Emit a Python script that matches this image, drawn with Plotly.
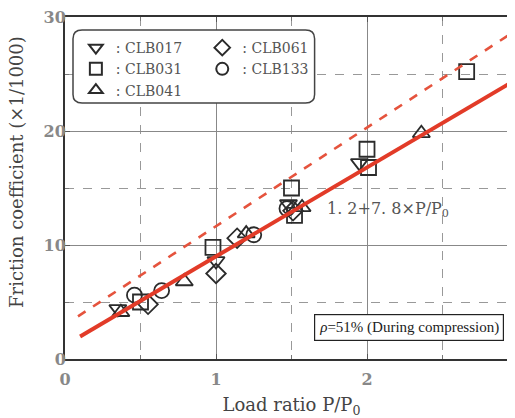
import plotly.graph_objects as go

# ---- data ----
clb017_x = [0.35, 1.00, 1.48, 1.95]
clb017_y = [4.4, 8.6, 13.6, 17.2]
clb031_x = [0.50, 0.98, 1.50, 1.52, 2.00, 2.01, 2.66]
clb031_y = [5.0, 9.8, 15.0, 12.6, 18.4, 16.8, 25.2]
clb041_x = [0.37, 0.79, 1.20, 1.57, 2.36]
clb041_y = [4.1, 6.8, 11.0, 13.3, 19.8]
clb061_x = [0.55, 1.00, 1.14, 1.51]
clb061_y = [4.8, 7.5, 10.6, 13.0]
clb133_x = [0.46, 0.64, 1.25, 1.47]
clb133_y = [5.6, 6.0, 10.9, 13.2]

fit_x = [0.1, 3.0]
fit_intercept, fit_slope = 1.2, 7.8
upper_x = [0.086, 3.0]
upper_intercept, upper_slope = 3.0, 8.65

serif = "DejaVu Serif"
serif2 = "Liberation Serif"
mk_line = dict(color="#2b2b2b", width=1.8)

fig = go.Figure()

series = [
    (": CLB017", clb017_x, clb017_y, "triangle-down-open", "legend"),
    (": CLB031", clb031_x, clb031_y, "square-open", "legend"),
    (": CLB041", clb041_x, clb041_y, "triangle-up-open", "legend"),
    (": CLB061", clb061_x, clb061_y, "diamond-open", "legend2"),
    (": CLB133", clb133_x, clb133_y, "circle-open", "legend2"),
]
for name, xs, ys, sym, lg in series:
    fig.add_trace(go.Scatter(
        x=xs, y=ys, mode="markers", name=name, legend=lg,
        marker=dict(symbol=sym, size=15, color="#2b2b2b", line=mk_line),
    ))

fig.add_trace(go.Scatter(
    x=upper_x, y=[upper_intercept + upper_slope * v for v in upper_x],
    mode="lines", showlegend=False,
    line=dict(color="#e5533d", width=2.6, dash="dash"),
))
fig.add_trace(go.Scatter(
    x=fit_x, y=[fit_intercept + fit_slope * v for v in fit_x],
    mode="lines", showlegend=False,
    line=dict(color="#e23b28", width=4),
))

# rounded legend frame (decoration)
x0, x1, y0, y1 = 0.053, 1.653, 22.45, 28.85
rx, ry = 0.06, 0.75
path = (f"M {x0+rx},{y0} L {x1-rx},{y0} Q {x1},{y0} {x1},{y0+ry} "
        f"L {x1},{y1-ry} Q {x1},{y1} {x1-rx},{y1} L {x0+rx},{y1} "
        f"Q {x0},{y1} {x0},{y1-ry} L {x0},{y0+ry} Q {x0},{y0} {x0+rx},{y0} Z")
fig.add_shape(type="path", path=path, xref="x", yref="y",
              line=dict(color="#444", width=1.5), fillcolor="white", layer="between")

fig.add_annotation(x=1.72, y=13.1, xref="x", yref="y", xanchor="left", yanchor="middle",
                   text="1. 2+7. 8×P/P<sub>0</sub>", showarrow=False,
                   font=dict(family=serif, size=16, color="#555"))
fig.add_annotation(x=2.28, y=2.8, xref="x", yref="y", xanchor="center", yanchor="middle",
                   text="<i>ρ</i>=51% (During compression)", showarrow=False,
                   font=dict(family=serif2, size=15, color="#222"),
                   bgcolor="white", bordercolor="#222", borderwidth=1.2, borderpad=4)
# y-axis title
fig.add_annotation(x=-0.106, y=0.547, xref="paper", yref="paper", xanchor="center", yanchor="middle",
                   text="Friction coefficient (×1/1000)", textangle=-90, showarrow=False,
                   font=dict(family=serif, size=18, color="#444"))

axis_common = dict(
    showline=True, linecolor="#333", linewidth=2, mirror="ticks",
    ticks="inside", ticklen=5, tickcolor="#555",
    showgrid=True, gridcolor="#888", gridwidth=1.2,
    zeroline=False, automargin=False, ticklabeloverflow="allow",
    tickfont=dict(family=serif, size=16, color="#888", weight="bold"),
)
fig.update_xaxes(range=[0, 3], dtick=1, tick0=0, ticklabelstandoff=5,
                 minor=dict(dtick=0.5, showgrid=True, gridcolor="#999", griddash="dash",
                            ticks="inside", ticklen=4, tickcolor="#777"),
                 title=dict(text="Load ratio P/P<sub>0</sub>", font=dict(family=serif, size=18, color="#444"), standoff=10),
                 **axis_common)
fig.update_yaxes(range=[0, 30], dtick=10, tick0=0, ticklabelstandoff=-6,
                 minor=dict(dtick=5, showgrid=True, gridcolor="#999", griddash="dash",
                            ticks="inside", ticklen=4, tickcolor="#777"),
                 **axis_common)

legend_common = dict(
    orientation="v", xanchor="left", yanchor="top",
    bgcolor="rgba(0,0,0,0)", borderwidth=0,
    font=dict(family=serif, size=14, color="#555"), itemsizing="constant",
)
fig.update_layout(
    width=515, height=418,
    margin=dict(l=57, r=5, t=9, b=67),
    plot_bgcolor="white", paper_bgcolor="white",
    legend=dict(x=0.024, y=0.956, **legend_common),
    legend2=dict(x=0.303, y=0.956, **legend_common),
    showlegend=True,
)

fig.write_html("out.html")
